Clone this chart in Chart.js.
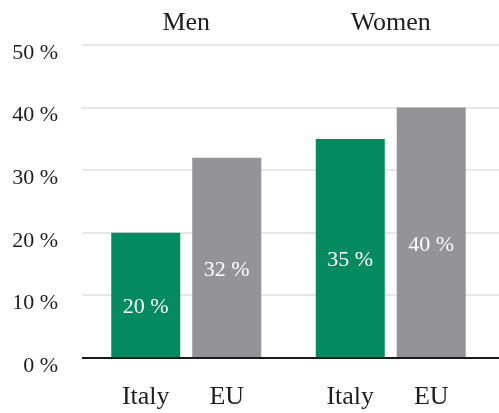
<!DOCTYPE html>
<html lang="en">
<head>
<meta charset="UTF-8" />
<title>Men / Women - Italy vs EU</title>
<script src="https://cdn.jsdelivr.net/npm/chart.js"></script>
<style>
    body { margin: 0; background: #fff; }
    canvas { display: block; }
</style>
</head>
<body>
<canvas id="grafico" width="499" height="413"></canvas>
<script>
    // dados
    const grupos = ['Men', 'Women'];
    const paises = ['Italy', 'EU'];
    const valoresItaly = [20, 35];
    const valoresEU = [32, 40];
    const ticksY = [0, 10, 20, 30, 40, 50];

    const fonte = "'Liberation Serif', 'DejaVu Serif', serif";
    const corTexto = '#1e1e1e';

    // linhas de grade por trás das barras + linha do zero por cima
    const gradePlugin = {
        id: 'grade',
        beforeDatasetsDraw(chart) {
            const ctx = chart.ctx, y = chart.scales.y, area = chart.chartArea;
            ctx.save();
            ctx.strokeStyle = '#e6e6e6';
            ctx.lineWidth = 2;
            ticksY.forEach(function (v) {
                if (v === 0) return;
                const py = Math.round(y.getPixelForValue(v));
                ctx.beginPath();
                ctx.moveTo(area.left - 2, py);
                ctx.lineTo(chart.width, py);
                ctx.stroke();
            });
            ctx.restore();
        },
        afterDatasetsDraw(chart) {
            const ctx = chart.ctx, y = chart.scales.y, area = chart.chartArea;
            const py = Math.round(y.getPixelForValue(0));
            ctx.save();
            ctx.strokeStyle = '#1a1a1a';
            ctx.lineWidth = 2;
            ctx.beginPath();
            ctx.moveTo(area.left - 2, py);
            ctx.lineTo(chart.width, py);
            ctx.stroke();
            ctx.restore();
        }
    };

    // valores dentro das barras e nomes (Italy / EU) embaixo de cada barra
    const rotulosPlugin = {
        id: 'rotulos',
        afterDraw(chart) {
            const ctx = chart.ctx, area = chart.chartArea;
            ctx.save();
            ctx.textAlign = 'center';
            ctx.textBaseline = 'middle';
            chart.data.datasets.forEach(function (ds, i) {
                chart.getDatasetMeta(i).data.forEach(function (bar, j) {
                    ctx.fillStyle = '#fff';
                    ctx.font = '22px ' + fonte;
                    ctx.fillText(ds.data[j] + ' %', bar.x, (bar.y + bar.base) / 2 + 12);
                    ctx.fillStyle = corTexto;
                    ctx.font = '26px ' + fonte;
                    ctx.fillText(ds.label, bar.x, area.bottom + 39);
                });
            });
            ctx.restore();
        }
    };

    new Chart(document.getElementById('grafico'), {
        type: 'bar',
        data: {
            labels: grupos,
            datasets: [
                { label: paises[0], data: valoresItaly, backgroundColor: '#048a5e' },
                { label: paises[1], data: valoresEU, backgroundColor: '#949498' }
            ]
        },
        options: {
            responsive: false,
            animation: false,
            events: [],
            categoryPercentage: 0.792,
            barPercentage: 0.852,
            layout: { padding: { right: 6, bottom: 55 } },
            plugins: {
                legend: { display: false },
                tooltip: { enabled: false }
            },
            scales: {
                x: {
                    position: 'top',
                    grid: { display: false, drawTicks: false },
                    border: { display: false },
                    ticks: { color: corTexto, font: { family: fonte, size: 26 }, padding: 6 },
                    afterFit(axis) { axis.height = 45; }
                },
                y: {
                    min: 0,
                    max: 50,
                    grid: { display: false, drawTicks: false },
                    border: { display: false },
                    afterBuildTicks(axis) { axis.ticks = ticksY.map(v => ({ value: v })); },
                    ticks: {
                        color: corTexto,
                        font: { family: fonte, size: 22 },
                        padding: 26,
                        labelOffset: 8,
                        callback: v => v + ' %'
                    },
                    afterFit(axis) { axis.width = 84; }
                }
            }
        },
        plugins: [gradePlugin, rotulosPlugin]
    });
</script>
</body>
</html>
